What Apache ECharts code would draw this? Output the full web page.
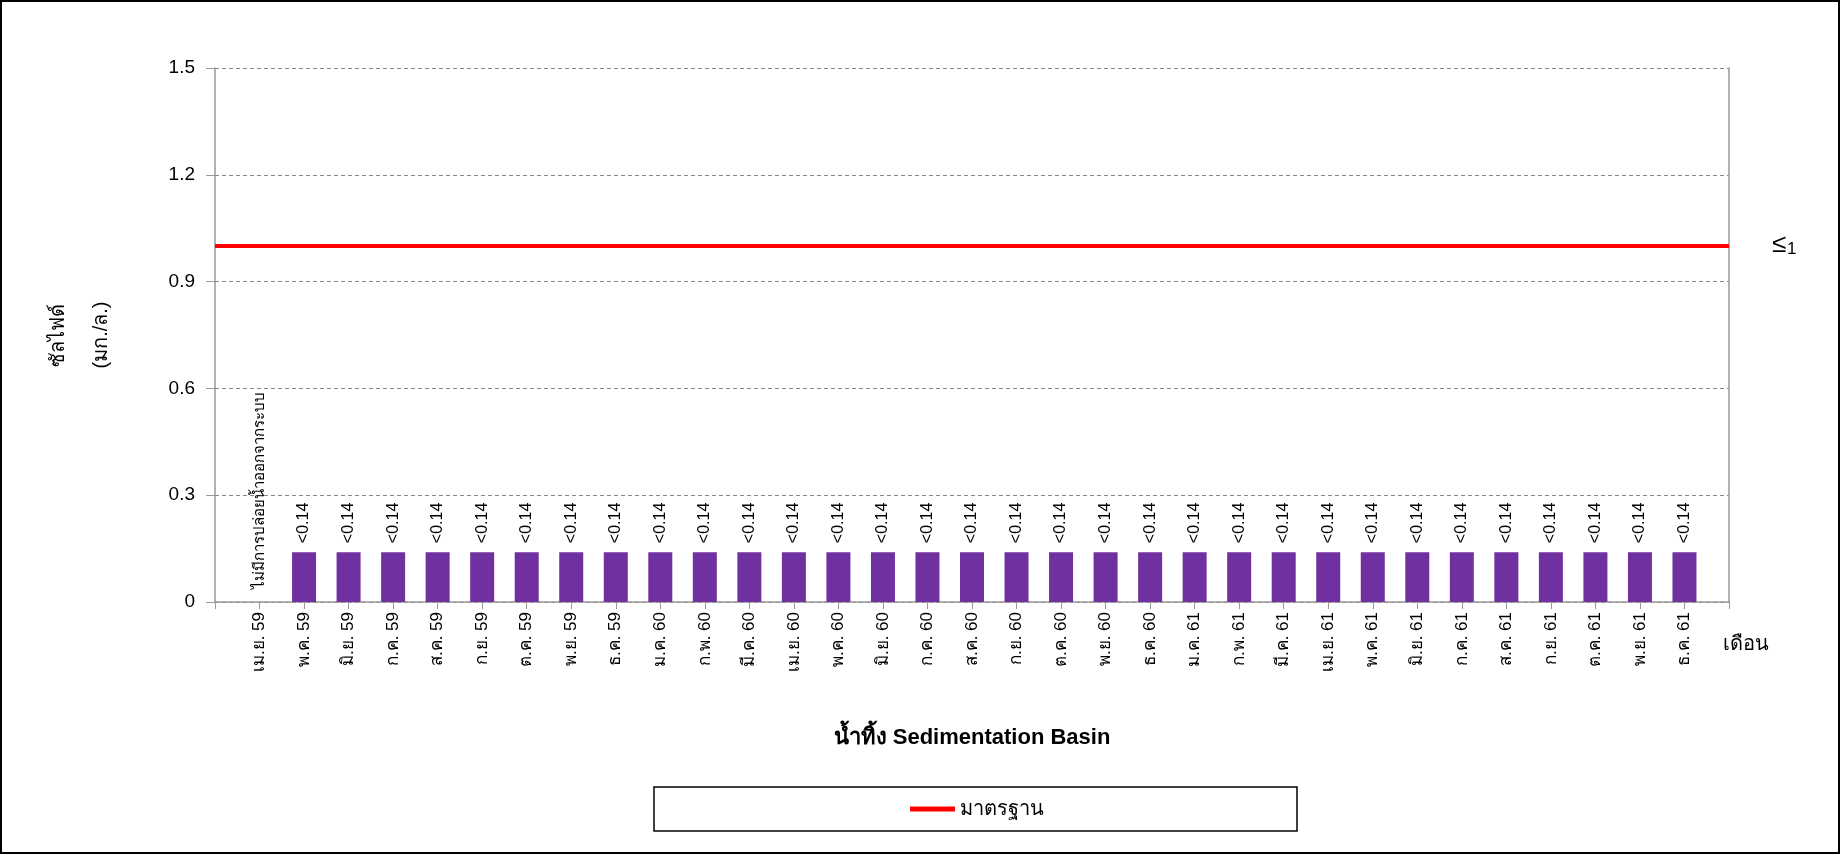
<!DOCTYPE html>
<html>
<head>
<meta charset="utf-8">
<script src="https://cdn.jsdelivr.net/npm/echarts@6/dist/echarts.min.js"></script>
<style>
  html, body { margin: 0; padding: 0; background: #fff; }
  #chart { width: 1841px; height: 855px; }
</style>
</head>
<body>
<div id="chart"></div>
<script>
// categories (blank slots at both ends, bars sit on the tick marks)
var months = ['', 'เม.ย. 59', 'พ.ค. 59', 'มิ.ย. 59', 'ก.ค. 59', 'ส.ค. 59', 'ก.ย. 59', 'ต.ค. 59', 'พ.ย. 59', 'ธ.ค. 59',
  'ม.ค. 60', 'ก.พ. 60', 'มี.ค. 60', 'เม.ย. 60', 'พ.ค. 60', 'มิ.ย. 60', 'ก.ค. 60', 'ส.ค. 60', 'ก.ย. 60', 'ต.ค. 60', 'พ.ย. 60', 'ธ.ค. 60',
  'ม.ค. 61', 'ก.พ. 61', 'มี.ค. 61', 'เม.ย. 61', 'พ.ค. 61', 'มิ.ย. 61', 'ก.ค. 61', 'ส.ค. 61', 'ก.ย. 61', 'ต.ค. 61', 'พ.ย. 61', 'ธ.ค. 61', ''];

var sulfide = [null, 0, 0.14, 0.14, 0.14, 0.14, 0.14, 0.14, 0.14, 0.14,
  0.14, 0.14, 0.14, 0.14, 0.14, 0.14, 0.14, 0.14, 0.14, 0.14, 0.14, 0.14,
  0.14, 0.14, 0.14, 0.14, 0.14, 0.14, 0.14, 0.14, 0.14, 0.14, 0.14, 0.14, null];

var sulfideLabels = ['', 'ไม่มีการปล่อยน้ำออกจากระบบ', '<0.14', '<0.14', '<0.14', '<0.14', '<0.14', '<0.14', '<0.14', '<0.14',
  '<0.14', '<0.14', '<0.14', '<0.14', '<0.14', '<0.14', '<0.14', '<0.14', '<0.14', '<0.14', '<0.14', '<0.14',
  '<0.14', '<0.14', '<0.14', '<0.14', '<0.14', '<0.14', '<0.14', '<0.14', '<0.14', '<0.14', '<0.14', '<0.14', ''];

var standard = [1, 1, 1, 1, 1, 1, 1, 1, 1, 1,
  1, 1, 1, 1, 1, 1, 1, 1, 1, 1, 1, 1,
  1, 1, 1, 1, 1, 1, 1, 1, 1, 1, 1, 1, 1];

var yTicks = { min: 0, max: 1.5, interval: 0.3 };

var font = '"Liberation Sans", Arial, sans-serif';
var myChart = echarts.init(document.getElementById('chart'));

myChart.setOption({
  animation: false,
  textStyle: { fontFamily: font, color: '#000' },
  grid: { left: 215, right: 112, top: 68, bottom: 253 },
  legend: {
    data: [{ name: 'มาตรฐาน', icon: 'rect' }],
    left: 654, top: 787,
    padding: [12, 253, 12, 256],
    itemWidth: 45, itemHeight: 5,
    itemGap: 8,
    borderColor: '#000', borderWidth: 1.5,
    textStyle: { fontSize: 20, color: '#000', fontFamily: font }
  },
  xAxis: {
    type: 'category',
    data: months,
    boundaryGap: false,
    name: 'น้ำทิ้ง Sedimentation Basin',
    nameLocation: 'middle',
    nameGap: 125,
    nameTextStyle: { fontSize: 22, fontWeight: 'bold', color: '#000' },
    axisLine: { lineStyle: { color: '#999', width: 1.5 } },
    axisTick: { show: true, length: 7, lineStyle: { color: '#999' }, interval: 0 },
    axisLabel: { rotate: 90, interval: 0, fontSize: 17, color: '#000', margin: 10 }
  },
  yAxis: [{
    type: 'value',
    min: yTicks.min, max: yTicks.max, interval: yTicks.interval,
    name: 'ซัลไฟด์\n(มก./ล.)',
    nameLocation: 'middle',
    nameGap: 92,
    nameTextStyle: { fontSize: 20, lineHeight: 43, color: '#000' },
    axisLine: { show: true, lineStyle: { color: '#999', width: 1.5 } },
    axisTick: { show: true, length: 9, lineStyle: { color: '#999' } },
    axisLabel: { fontSize: 19, color: '#000', margin: 20 },
    splitLine: { lineStyle: { color: '#888', type: [4, 3] } }
  }, {
    type: 'value',
    position: 'right',
    min: yTicks.min, max: yTicks.max, interval: yTicks.interval,
    axisLine: { show: true, lineStyle: { color: '#999', width: 1.5 } },
    axisTick: { show: false },
    axisLabel: { show: false },
    splitLine: { show: false }
  }],
  series: [{
    type: 'bar',
    name: 'ซัลไฟด์',
    data: sulfide,
    barWidth: 24,
    itemStyle: { color: '#7030A0' },
    label: {
      show: true,
      position: 'top',
      rotate: 90,
      align: 'left',
      verticalAlign: 'middle',
      distance: 9,
      fontSize: 16,
      color: '#000',
      rich: { note: { fontSize: 15, padding: [0, 0, 0, 4] } },
      formatter: function (p) {
        var s = sulfideLabels[p.dataIndex];
        return sulfide[p.dataIndex] === 0 ? '{note|' + s + '}' : s;
      }
    }
  }, {
    type: 'line',
    name: 'มาตรฐาน',
    data: standard,
    symbol: 'none',
    z: 5,
    lineStyle: { color: '#FF0000', width: 4 },
    itemStyle: { color: '#FF0000' }
  }],
  graphic: [
    { type: 'rect', shape: { x: 1, y: 1, width: 1838, height: 852 }, style: { fill: 'none', stroke: '#000', lineWidth: 2 } },
    { type: 'text', left: 1772, top: 232, style: { text: '≤', fontSize: 26, fill: '#000', fontFamily: font } },
    { type: 'text', left: 1787, top: 241, style: { text: '1', fontSize: 17, fill: '#000', fontFamily: font } },
    { type: 'text', left: 1723, top: 634, style: { text: 'เดือน', fontSize: 20, fill: '#000', fontFamily: font } }
  ]
});
</script>
</body>
</html>
